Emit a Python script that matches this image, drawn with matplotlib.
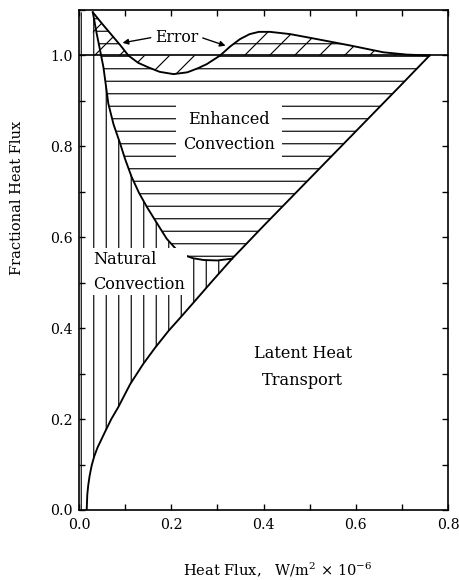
import numpy as np
import matplotlib
matplotlib.use("Agg")
import matplotlib.pyplot as plt
from matplotlib.ticker import MultipleLocator, FormatStrFormatter

plt.rcParams["font.family"] = ["DejaVu Serif"]
plt.rcParams["mathtext.fontset"] = "dejavuserif"
plt.rcParams["hatch.linewidth"] = 1.1

# Latent heat transport (lower boundary)
latent_x = [0.0167, 0.018, 0.02, 0.023, 0.0275, 0.033, 0.04, 0.056, 0.07, 0.085, 0.111,
            0.139, 0.165, 0.194, 0.223, 0.248, 0.29, 0.332, 0.4, 0.5, 0.6, 0.7, 0.76]
latent_y = [0.0, 0.034, 0.054, 0.075, 0.098, 0.118, 0.137, 0.171, 0.2, 0.226, 0.277,
            0.321, 0.357, 0.394, 0.427, 0.456, 0.505, 0.553, 0.625, 0.729, 0.833, 0.937, 1.0]

# Natural + latent (lower boundary of enhanced convection)
enh_x = [0.03, 0.038, 0.046, 0.053, 0.0636, 0.075, 0.089, 0.1, 0.114, 0.13, 0.147,
         0.169, 0.19, 0.213, 0.23, 0.247, 0.27, 0.3, 0.332]
enh_y = [1.095, 1.05, 1.01, 0.974, 0.894, 0.848, 0.807, 0.772, 0.733, 0.698, 0.667,
         0.631, 0.597, 0.571, 0.56, 0.554, 0.55, 0.549, 0.553]

# Sum of all terms (error curve)
err_x = [0.03, 0.05, 0.07, 0.09, 0.107, 0.128, 0.15, 0.175, 0.205, 0.235, 0.258,
         0.277, 0.306, 0.328, 0.349, 0.37, 0.39, 0.414, 0.458, 0.516, 0.588, 0.66,
         0.71, 0.76]
err_y = [1.095, 1.07, 1.046, 1.022, 1.0, 0.984, 0.974, 0.964, 0.959, 0.963, 0.972,
         0.981, 1.0, 1.02, 1.036, 1.047, 1.052, 1.052, 1.047, 1.036, 1.022, 1.007,
         1.002, 1.0]

fig = plt.figure(figsize=(459 / 75, 580 / 75), dpi=75)
ax = fig.add_axes([0.1721, 0.1207, 0.804, 0.862])
ax.set_xlim(0, 0.8)
ax.set_ylim(0, 1.1)

lx, ly = np.array(latent_x), np.array(latent_y)
ex, ey = np.array(enh_x), np.array(enh_y)
rx, ry = np.array(err_x), np.array(err_y)
split = np.searchsorted(lx, ex[-1])

# natural convection region (vertical hatch)
nat_x = np.concatenate([[0.0], lx[:split], ex[::-1], [0.0]])
nat_y = np.concatenate([[0.0], ly[:split], ey[::-1], [ey[0]]])
ax.fill(nat_x, nat_y, facecolor="none", edgecolor="black", hatch="|", lw=0)

# enhanced convection region (horizontal hatch)
enh_px = np.concatenate([rx, lx[split:][::-1], ex[::-1]])
enh_py = np.concatenate([ry, ly[split:][::-1], ey[::-1]])
ax.fill(enh_px, enh_py, facecolor="none", edgecolor="black", hatch="-", lw=0)

# error region (diagonal hatch)
ax.fill_between(rx, ry, 1.0, facecolor="none", edgecolor="black", hatch="/", lw=0)

ax.axhline(1.0, color="black", lw=1.6)
ax.plot(lx, ly, color="black", lw=1.8)
ax.plot(ex, ey, color="black", lw=1.8)
ax.plot(rx, ry, color="black", lw=1.8)

ax.text(0.213, 1.04, "Error", ha="center", va="center", fontsize=15,
        bbox=dict(boxstyle="square,pad=0.2", fc="white", ec="none"))
ax.annotate("", xy=(0.09, 1.027), xytext=(0.16, 1.04),
            arrowprops=dict(arrowstyle="-|>", color="black", lw=1.3, mutation_scale=11))
ax.annotate("", xy=(0.322, 1.02), xytext=(0.264, 1.04),
            arrowprops=dict(arrowstyle="-|>", color="black", lw=1.3, mutation_scale=11))

ax.text(0.325, 0.832, "Enhanced\nConvection", ha="center", va="center", fontsize=15.5,
        linespacing=1.65, bbox=dict(boxstyle="square,pad=0.45", fc="white", ec="none"))
ax.text(0.03, 0.524, "Natural\nConvection", ha="left", va="center", fontsize=15.5,
        linespacing=1.65, bbox=dict(boxstyle="square,pad=0.15", fc="white", ec="none"))
ax.text(0.485, 0.315, "Latent Heat\nTransport", ha="center", va="center", fontsize=15.5,
        linespacing=1.75)

ax.xaxis.set_major_locator(MultipleLocator(0.2))
ax.xaxis.set_minor_locator(MultipleLocator(0.1))
ax.yaxis.set_major_locator(MultipleLocator(0.2))
ax.yaxis.set_minor_locator(MultipleLocator(0.1))
ax.xaxis.set_major_formatter(FormatStrFormatter("%.1f"))
ax.yaxis.set_major_formatter(FormatStrFormatter("%.1f"))
ax.tick_params(which="both", direction="in", top=True, right=True, length=6,
               width=1.3, labelsize=13.5)
ax.tick_params(axis="x", pad=8)
ax.tick_params(axis="y", pad=6)
for s in ax.spines.values():
    s.set_linewidth(1.6)

ax.set_xlabel(r"Heat Flux,   W/m$^2$ $\times$ 10$^{-6}$", fontsize=14)
ax.set_ylabel("Fractional Heat Flux", fontsize=14)
ax.xaxis.set_label_coords(0.537, -0.1)
ax.yaxis.set_label_coords(-0.15, 0.624)

fig.savefig("out.png", dpi=75, facecolor="white")
